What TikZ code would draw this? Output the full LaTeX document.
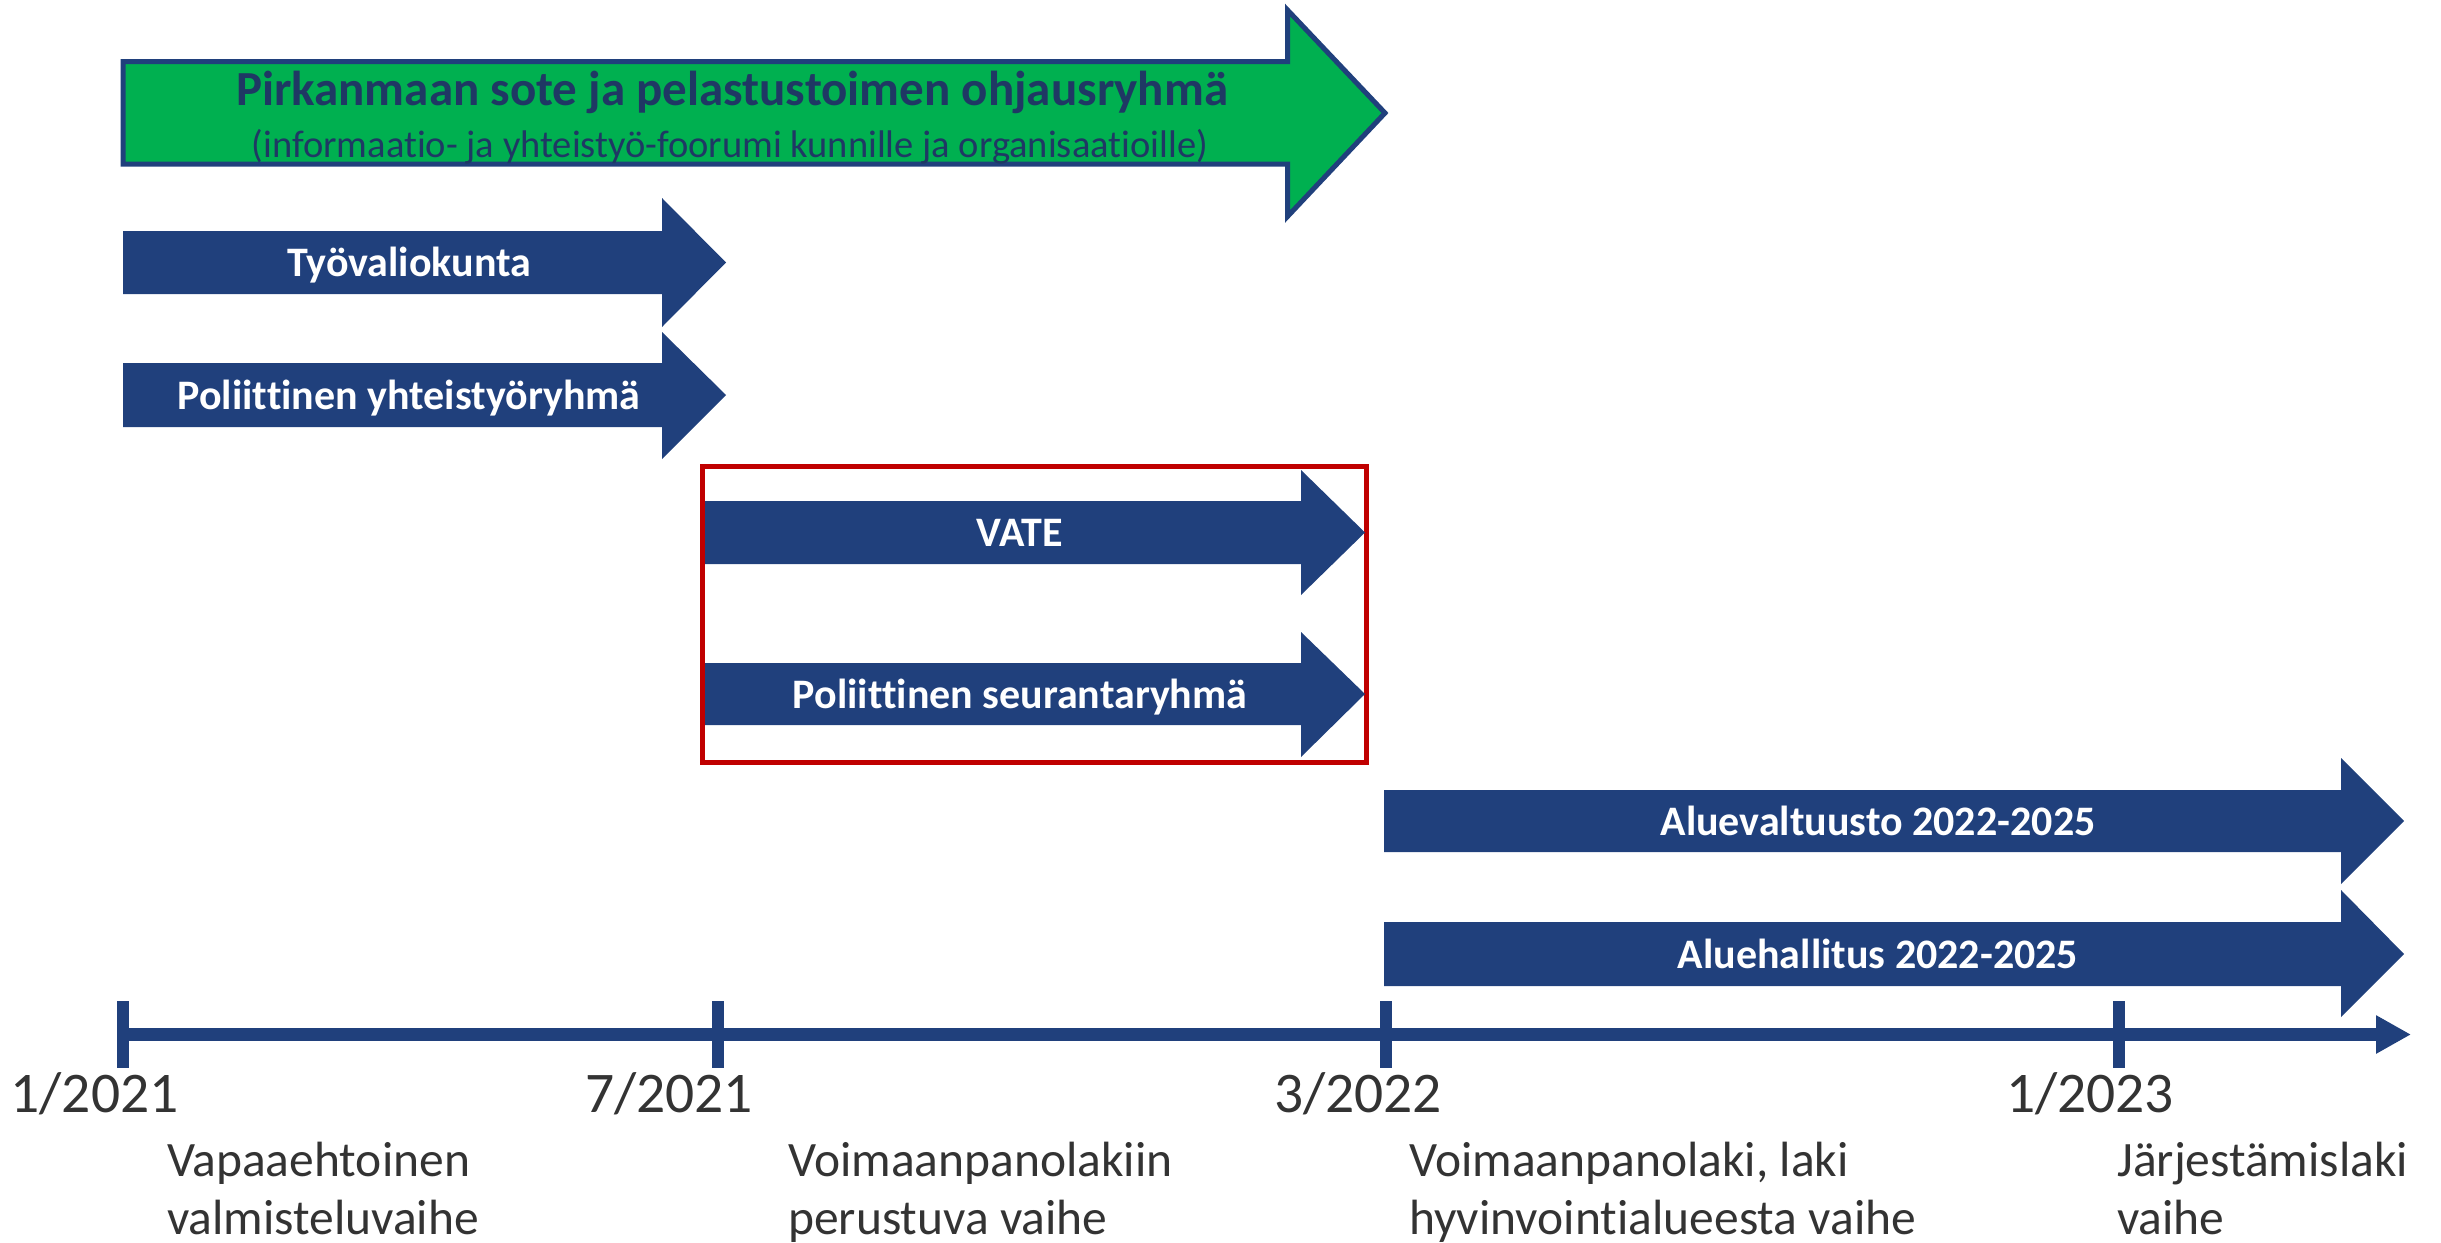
\documentclass[tikz,border=0pt]{standalone}
\usepackage{fontspec}
\setmainfont{Carlito}[Ligatures=NoCommon]
\usetikzlibrary{arrows.meta,positioning}
\definecolor{barblue}{RGB}{32,64,124}
\definecolor{navytext}{RGB}{31,56,100}
\definecolor{leadgreen}{RGB}{0,176,80}
\definecolor{boxred}{RGB}{192,0,0}
\definecolor{labelgray}{RGB}{51,51,51}

\tikzset{
  bar/.style={fill=barblue},
  barlabel/.style={text=white, font=\fontsize{42}{50}\selectfont\bfseries, anchor=base, inner sep=0pt},
  datelabel/.style={text=labelgray, font=\fontsize{57.5}{66}\selectfont, anchor=base, inner sep=0pt},
  phaselabel/.style={text=labelgray, font=\fontsize{49.5}{58}\selectfont, anchor=base west, align=left, inner sep=0pt},
  tickmark/.style={barblue, line width=12pt},
}

\begin{document}
\begin{tikzpicture}[x=1pt, y=-1pt]
  \useasboundingbox (0,0) rectangle (2441,1242);

  % Steering group (green arrow)
  \filldraw[fill=leadgreen, draw=barblue, line width=5pt, line join=miter]
    (123,61.5) -- (1287.5,61.5) -- (1287.5,10) -- (1385,113) -- (1287.5,216.5)
    -- (1287.5,164) -- (123,164) -- cycle;
  \node[text=navytext, font=\fontsize{49}{54}\selectfont\bfseries, anchor=base, inner sep=0pt]
    (ohjaus) at (732,105) {Pirkanmaan sote ja pelastustoimen ohjausryhmä};
  \node[text=navytext, font=\fontsize{38.5}{44}\selectfont, anchor=base, inner sep=0pt]
    (foorumi) at (730,157) {(informaatio- ja yhteistyö-foorumi kunnille ja organisaatioille)};

  % Preparation groups
  \fill[bar] (123,231) -- (662,231) -- (662,198) -- (726,262.5) -- (662,327) -- (662,294) -- (123,294) -- cycle;
  \node[barlabel] (tyo) at (409,276.5) {Työvaliokunta};
  \fill[bar] (123,363) -- (662,363) -- (662,332) -- (726,395) -- (662,459) -- (662,427) -- (123,427) -- cycle;
  \node[barlabel] (yhteis) at (409,409) {Poliittinen yhteistyöryhmä};

  % Temporary bodies
  \draw[boxred, line width=5pt] (702,466) rectangle (1366,762);
  \fill[bar] (705,501) -- (1301,501) -- (1301,470) -- (1365,532.5) -- (1301,595) -- (1301,564) -- (705,564) -- cycle;
  \node[barlabel] (vate) at (1020,546.5) {VATE};
  \fill[bar] (705,663) -- (1301,663) -- (1301,632) -- (1365,694) -- (1301,757) -- (1301,725) -- (705,725) -- cycle;
  \node[barlabel] (seuranta) at (1020,708) {Poliittinen seurantaryhmä};

  % Regional bodies
  \fill[bar] (1384,790) -- (2341,790) -- (2341,758) -- (2404,821) -- (2341,884) -- (2341,852) -- (1384,852) -- cycle;
  \node[barlabel] (valtuusto) at (1878,835) {Aluevaltuusto 2022-2025};
  \fill[bar] (1384,922) -- (2341,922) -- (2341,890) -- (2404,954) -- (2341,1017) -- (2341,986) -- (1384,986) -- cycle;
  \node[barlabel] (hallitus) at (1878,968) {Aluehallitus 2022-2025};

  % Timeline
  \coordinate (t1) at (123,1034.5);
  \coordinate (t2) at (718,1034.5);
  \coordinate (t3) at (1386,1034.5);
  \coordinate (t4) at (2119,1034.5);
  \coordinate (tend) at (2411,1034.5);
  \draw[barblue, line width=13pt, -{Triangle[length=35pt, width=36pt]}] (t1) -- (tend);
  \foreach \t in {t1,t2,t3,t4}
    \draw[tickmark] (\t) ++(0,-33.5) -- ++(0,67);

  \node[datelabel] (d1) at (94.5,1112) {1/2021};
  \node[datelabel] (d2) at (669,1112) {7/2021};
  \node[datelabel] (d3) at (1358,1112) {3/2022};
  \node[datelabel] (d4) at (2090,1112) {1/2023};

  % phase texts: anchor is the baseline of the second line
  \node[phaselabel] (p1) at (167,1234) {Vapaaehtoinen\\valmisteluvaihe};
  \node[phaselabel] (p2) at (788,1234) {Voimaanpanolakiin\\perustuva vaihe};
  \node[phaselabel] (p3) at (1409,1234) {Voimaanpanolaki, laki\\hyvinvointialueesta vaihe};
  \node[phaselabel] (p4) at (2117,1234) {Järjestämislaki\\vaihe};
\end{tikzpicture}
\end{document}
